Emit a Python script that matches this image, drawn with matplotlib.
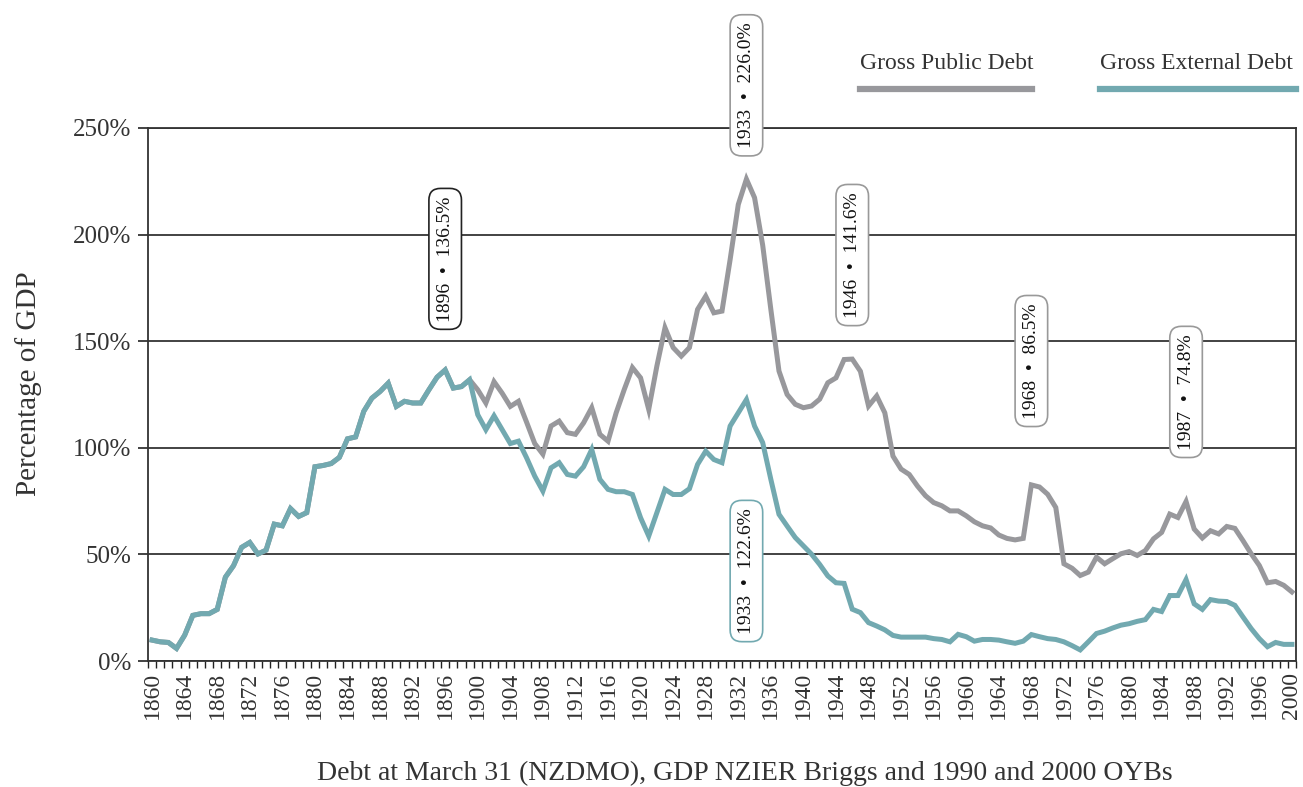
import matplotlib
matplotlib.use("Agg")
import matplotlib.pyplot as plt
from matplotlib.lines import Line2D
import numpy as np

plt.rcParams["font.family"] = ["Liberation Serif", "DejaVu Serif"]

years = np.arange(1860, 2001)

# Gross External Debt, % of GDP
external = [
    9.8, 9.0, 8.7, 5.9, 12.1, 21.4, 22.2, 22.2, 24.2, 39.3,
    44.7, 53.3, 55.6, 50.2, 52.0, 64.2, 63.4, 71.5, 67.8, 69.6,
    91.1, 91.7, 92.6, 95.5, 104.2, 105.1, 117.1, 123.3, 126.4, 130.3,
    119.4, 121.8, 121.0, 121.0, 127.2, 133.1, 136.5, 128.0, 128.7, 131.9,
    115.5, 108.5, 115.0, 108.5, 102.0, 103.1, 95.3, 86.7, 79.7, 90.6,
    93.0, 87.5, 86.7, 91.1, 99.2, 85.2, 80.5, 79.4, 79.4, 78.1,
    67.2, 58.6, 69.5, 80.5, 78.1, 78.1, 80.8, 92.2, 98.4, 94.5,
    93.0, 110.2, 116.4, 122.6, 110.2, 102.4, 85.2, 68.8, 63.3, 57.9,
    54.0, 50.1, 45.3, 39.9, 36.7, 36.4, 24.3, 22.7, 18.0, 16.4,
    14.6, 12.0, 11.2, 11.2, 11.2, 11.2, 10.5, 10.1, 9.0, 12.5,
    11.4, 9.3, 10.1, 10.1, 9.8, 9.0, 8.3, 9.3, 12.4, 11.4,
    10.5, 10.1, 9.0, 7.2, 5.2, 9.0, 12.9, 14.0, 15.5, 16.8,
    17.5, 18.6, 19.4, 24.2, 23.2, 30.7, 30.7, 38.2, 26.8, 24.2,
    28.8, 28.1, 27.9, 26.1, 20.6, 15.2, 10.5, 6.7, 8.7, 7.8,
    7.8,
]

# Gross Public Debt from 1899 on (same as external before that)
public_from_1899 = [
    131.9, 127.2, 121.0, 131.0, 125.6, 119.4, 121.8, 112.0, 102.0, 97.0,
    110.2, 112.5, 107.1, 106.3, 111.7, 118.8, 106.3, 103.1, 116.4, 127.4,
    137.6, 132.8, 118.0, 138.3, 156.3, 147.0, 143.0, 147.0, 164.9, 171.1,
    163.3, 164.1, 188.3, 214.1, 226.0, 217.3, 195.0, 164.9, 136.0, 125.0,
    120.4, 118.8, 119.6, 122.8, 130.5, 132.8, 141.4, 141.6, 135.9, 119.6,
    124.3, 116.4, 96.1, 90.0, 87.5, 82.1, 77.5, 74.3, 72.8, 70.4,
    70.4, 68.1, 65.3, 63.4, 62.4, 59.1, 57.5, 56.8, 57.5, 82.6,
    81.6, 78.2, 72.0, 45.6, 43.5, 40.1, 41.7, 48.7, 45.6, 48.0,
    50.3, 51.3, 49.5, 51.8, 57.3, 60.3, 68.9, 67.3, 74.8, 61.9,
    57.7, 61.1, 59.6, 63.1, 62.2, 56.4, 50.3, 44.8, 36.7, 37.3,
    35.5, 32.4,
]
public = external[:1899 - 1860] + public_from_1899

labels = [
    (1896, 188.6, "1896  \u2022  136.5%", "#222222"),
    (1933, 270.0, "1933  \u2022  226.0%", "#999999"),
    (1946, 190.4, "1946  \u2022  141.6%", "#999999"),
    (1968, 140.7, "1968  \u2022  86.5%", "#999999"),
    (1987, 126.2, "1987  \u2022  74.8%", "#999999"),
    (1933, 42.2, "1933  \u2022  122.6%", "#72a9b0"),
]

gray = "#98989c"
teal = "#72a9b0"
txt = "#333333"

fig = plt.figure(figsize=(13.03, 7.87), dpi=100)
ax = fig.add_axes([0.1136, 0.1601, 0.881, 0.6773])

ax.plot(years, public, color=gray, lw=3.6, solid_joinstyle="miter", zorder=3)
ax.plot(years, external, color=teal, lw=3.6, solid_joinstyle="miter", zorder=4)

ax.set_xlim(1859.5, 2000.5)
ax.set_ylim(0, 250)
ax.set_yticks([0, 50, 100, 150, 200, 250])
ax.set_yticklabels(["0%", "50%", "100%", "150%", "200%", "250%"], fontsize=18, color=txt)
ax.yaxis.grid(True, color="#222222", lw=1.2)
ax.tick_params(axis="y", length=7, width=1.2, color="#222222", pad=5)

ax.set_xticks(np.arange(1860, 2001, 4))
ax.set_xticklabels([str(y) for y in range(1860, 2001, 4)], rotation=90, fontsize=17, color=txt)
ax.set_xticks(np.arange(1859.5, 2001, 1), minor=True)
ax.tick_params(axis="x", which="major", length=0, pad=8)
ax.tick_params(axis="x", which="minor", length=5, width=1.0, color="#222222")

for s in ["left", "bottom", "right", "top"]:
    ax.spines[s].set_color("#333333")
    ax.spines[s].set_linewidth(1.3)

ax.set_ylabel("Percentage of GDP", fontsize=21, color=txt)
ax.yaxis.set_label_coords(-0.092, 0.52)
ax.set_xlabel("Debt at March 31 (NZDMO), GDP NZIER Briggs and 1990 and 2000 OYBs",
              fontsize=20, color=txt)
ax.xaxis.set_label_coords(0.52, -0.188)

for yr, pos, s, ec in labels:
    ax.text(yr, pos, s, rotation=90, ha="center", va="center", fontsize=14,
            color="#111111", clip_on=False, zorder=6,
            bbox=dict(boxstyle="round,pad=0.4,rounding_size=0.6", fc="white", ec=ec, lw=1.2))

# legend drawn by hand above the plot
fig.text(0.660, 0.906, "Gross Public Debt", fontsize=17, color=txt, ha="left", va="bottom")
fig.add_artist(Line2D([0.660, 0.792], [0.887, 0.887], color=gray, lw=4.5))
fig.text(0.844, 0.906, "Gross External Debt", fontsize=17, color=txt, ha="left", va="bottom")
fig.add_artist(Line2D([0.844, 0.9946], [0.887, 0.887], color=teal, lw=4.5))

fig.savefig("out.png", dpi=100)
